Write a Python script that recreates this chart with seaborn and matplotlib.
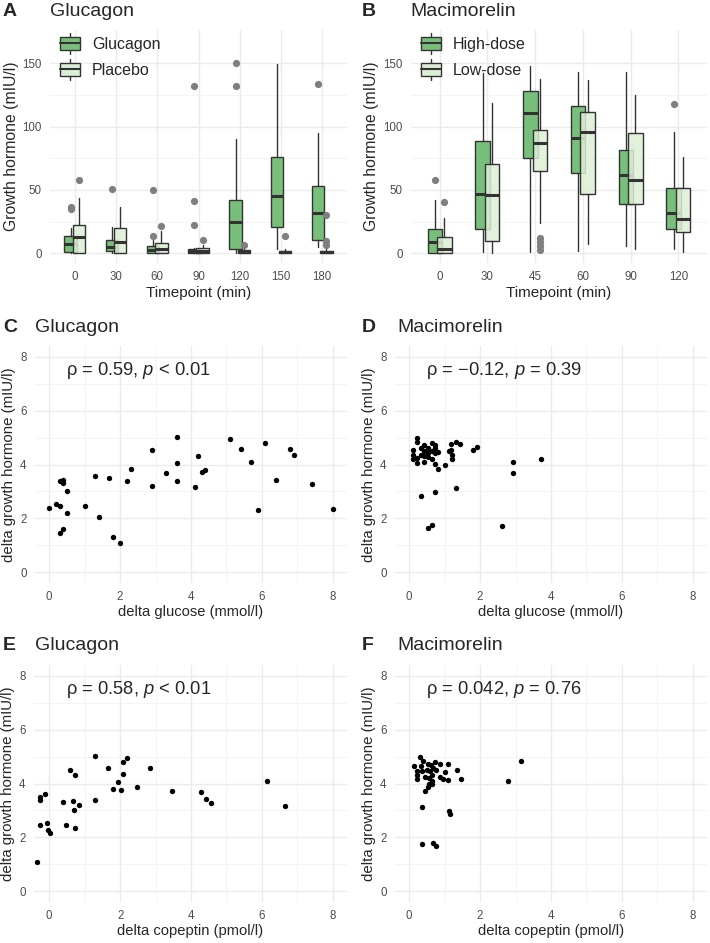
import numpy as np
import pandas as pd
import matplotlib
matplotlib.use("Agg")
import matplotlib.pyplot as plt
import seaborn as sns
from matplotlib.colors import to_rgba
from matplotlib.legend_handler import HandlerBase
from matplotlib.lines import Line2D
from matplotlib.patches import Patch, Rectangle
from matplotlib.ticker import FixedLocator


# ---- data: box summaries (panel A, glucagon test) ----
times_a = ["0", "30", "60", "90", "120", "150", "180"]
gluc_q1 = [0.8, 1.6, 0.5, 0.3, 3.7, 21, 10.8]
gluc_med = [7.5, 4.8, 2.8, 1.8, 24.5, 45, 32]
gluc_q3 = [14, 10.8, 5.8, 3.7, 41.8, 76.3, 53]
gluc_lo = [0.2, 0.3, 0.2, 0.1, 0.5, 3.4, 5.3]
gluc_hi = [20, 21, 11, 4.7, 90.5, 149.5, 95]
gluc_out = [[35, 36.5], [50.8], [13.8, 50.2], [22.5, 41.5, 131.7], [131.6, 150], [], [133.7]]

plac_q1 = [0.5, 0.5, 0.5, 0.3, 0, 0, 0]
plac_med = [12.6, 8.7, 3.4, 2, 1, 0.8, 0.8]
plac_q3 = [22.6, 19.7, 7.9, 4.2, 2.6, 1.8, 2.1]
plac_lo = [0, 0, 0, 0, 0, 0, 0]
plac_hi = [44, 36.8, 18, 7, 3.7, 3.2, 3.2]
plac_out = [[57.9], [], [22], [10.5], [6.5], [13.5], [7, 10, 30]]

# ---- data: box summaries (panel B, macimorelin test) ----
times_b = ["0", "30", "45", "60", "90", "120"]
high_q1 = [0, 19.5, 75, 63.7, 38.7, 19.5]
high_med = [8.9, 46.6, 111, 90.8, 61.6, 31.8]
high_q3 = [19.5, 88.7, 128, 115.8, 81.8, 51.8]
high_lo = [0, 0.8, 1.3, 1.8, 5.8, 3.2]
high_hi = [41.8, 142, 147.4, 142.6, 142.6, 95.8]
high_out = [[58.2], [], [], [], [], [117.9]]

low_q1 = [0, 9.5, 65.3, 47.1, 39.2, 17.1]
low_med = [3.4, 45.8, 86.8, 96, 57.9, 27.1]
low_q3 = [12.9, 70.3, 97.4, 111.3, 94.7, 51.8]
low_lo = [0, 0, 24, 7.4, 3.7, 1.3]
low_hi = [27.6, 118.4, 137.4, 136.8, 124.5, 76]
low_out = [[40.3], [], [2.5, 5.5, 9, 12.5], [], [], []]

# ---- data: scatter panels ----
gluc_glucose = [0.0, 0.2, 0.3, 0.3, 0.4, 0.4, 0.3, 0.4, 0.5, 0.5, 1.0, 1.3, 1.4,
                1.7, 1.8, 2.0, 2.2, 2.3, 2.9, 2.9, 3.3, 3.6, 3.6, 3.6, 4.1, 4.2,
                4.3, 4.4, 5.1, 5.4, 5.7, 5.9, 6.1, 6.4, 6.8, 6.9, 7.4, 8.0]
gluc_gh_c = [2.40, 2.54, 2.46, 3.38, 3.41, 3.30, 1.47, 1.60, 3.02, 2.19, 2.46, 3.59,
             2.06, 3.49, 1.32, 1.07, 3.37, 3.84, 4.52, 3.20, 3.69, 5.01, 4.06, 3.37,
             3.16, 4.33, 3.73, 3.78, 4.95, 4.57, 4.09, 2.30, 4.81, 3.44, 4.56, 4.36,
             3.27, 2.35]

maci_glucose = [2.92, 2.92, 3.71, 2.62, 0.52, 0.63, 0.33, 0.72, 1.32, 1.80, 1.92,
                1.02, 0.82,
                0.23, 0.23, 0.12, 0.12, 0.12, 0.23, 0.23, 0.42, 0.42, 0.42, 0.42,
                0.52, 0.52, 0.52, 0.63, 0.63, 0.72, 0.72, 0.72, 0.72, 0.82, 0.32,
                0.32, 0.63, 1.19, 1.19, 1.22, 1.22, 1.32, 1.43, 1.12]
maci_gh_d = [4.09, 3.69, 4.19, 1.73, 1.66, 1.76, 2.84, 2.97, 3.12, 4.54, 4.64,
             3.98, 3.84,
             4.98, 4.83, 4.53, 4.37, 4.21, 4.06, 4.24, 4.72, 4.50, 4.31, 4.11,
             4.62, 4.41, 4.28, 4.50, 4.21, 4.72, 4.60, 4.41, 4.01, 4.47, 4.37,
             4.62, 4.78, 4.52, 4.77, 4.37, 4.21, 4.85, 4.75, 4.50]

gluc_copeptin = [-0.35, -0.26, -0.26, -0.13, -0.26, -0.06, -0.03, 0.03, 0.40, 0.48,
                 0.58, 0.73, 0.67, 0.71, 0.73, 0.84, 1.29, 1.29, 1.66, 1.79, 1.93,
                 2.02, 2.09, 2.09, 2.19, 2.48, 2.83, 3.47, 4.28, 4.43, 4.56, 6.14, 6.65]
gluc_gh_e = [1.08, 3.50, 3.37, 3.60, 2.45, 2.55, 2.29, 2.18, 3.30, 2.45, 4.51, 4.33,
             3.36, 3.03, 2.35, 3.19, 5.01, 3.40, 4.56, 3.79, 4.05, 3.75, 4.35, 4.81,
             4.94, 3.86, 4.56, 3.73, 3.70, 3.44, 3.28, 4.09, 3.18]

maci_copeptin = [3.15, 2.78, 0.35, 1.11, 1.16, 0.35, 0.67, 0.75, 1.45, 1.35, 0.14,
                 0.22, 0.21, 0.46,
                 0.31, 0.39, 0.52, 0.61, 0.72, 0.86, 1.10, 0.23, 0.35, 0.49, 0.58,
                 0.68, 0.77, 1.01, 0.44, 0.55, 0.63, 0.55, 0.52, 0.63, 0.86, 0.96,
                 1.10, 0.33, 0.65]
maci_gh_f = [4.85, 4.09, 3.13, 2.98, 2.87, 1.76, 1.80, 1.68, 4.15, 4.49, 4.66,
             4.17, 4.33, 3.71,
             4.98, 4.82, 4.73, 4.67, 4.78, 4.73, 4.73, 4.45, 4.45, 4.51, 4.45,
             4.57, 4.49, 4.41, 4.25, 4.20, 4.10, 3.98, 3.86, 3.98, 4.23, 4.17,
             4.13, 4.64, 4.33]

corr_labels = ["\u03c1 = 0.59, $\\it{p}$ < 0.01",
               "\u03c1 = \u22120.12, $\\it{p}$ = 0.39",
               "\u03c1 = 0.58, $\\it{p}$ < 0.01",
               "\u03c1 = 0.042, $\\it{p}$ = 0.76"]


DARK = "#79bf7c"
LIGHT = "#dcefd5"
EDGE = "#333333"
GRID = "#ebebeb"

sns.set_theme(style="whitegrid")
plt.rcParams["font.family"] = ["Liberation Sans", "DejaVu Sans"]
plt.rcParams["mathtext.fontset"] = "custom"
plt.rcParams["mathtext.rm"] = "Liberation Sans"
plt.rcParams["mathtext.it"] = "Liberation Sans:italic"

W, H = 710, 943
fig = plt.figure(figsize=(W / 100, H / 100), dpi=100)
fig.patch.set_facecolor("white")


def add_ax(l, t, r, b):
    return fig.add_axes([l / W, 1 - b / H, (r - l) / W, (b - t) / H])


def style_ax(ax, minor_y, minor_x=None):
    for s in ax.spines.values():
        s.set_visible(False)
    ax.set_facecolor("white")
    ax.yaxis.set_minor_locator(FixedLocator(minor_y))
    if minor_x is not None:
        ax.xaxis.set_minor_locator(FixedLocator(minor_x))
    ax.tick_params(which="both", length=0, labelsize=8.3, labelcolor="#4d4d4d", pad=6)
    ax.grid(which="major", color=GRID, lw=1.0)
    ax.grid(which="minor", color="#f2f2f2", lw=0.6)
    ax.set_axisbelow(True)


class BoxKey(HandlerBase):
    def create_artists(self, legend, orig_handle, xdescent, ydescent,
                       width, height, fontsize, trans):
        x0, y0 = -xdescent, -ydescent
        wh = Line2D([x0 + width / 2] * 2, [y0 - height * 0.3, y0 + height * 1.3],
                    color=EDGE, lw=1, transform=trans)
        rect = Rectangle((x0, y0), width, height, facecolor=orig_handle.get_facecolor(),
                         edgecolor=EDGE, lw=1, transform=trans)
        med = Line2D([x0, x0 + width], [y0 + height / 2] * 2, color=EDGE, lw=1.5,
                     transform=trans)
        return [wh, rect, med]


def box_stats(q1, med, q3, lo, hi, out):
    return [dict(q1=a, med=m, q3=c, whislo=l, whishi=h, fliers=f)
            for a, m, c, l, h, f in zip(q1, med, q3, lo, hi, out)]


def box_panel(ax, cats, groups, names):
    n = len(cats)
    for (stats, color, alpha, off, z) in groups:
        ax.bxp(stats, positions=np.arange(n) + off, widths=0.3, patch_artist=True,
               showcaps=False, manage_ticks=False, zorder=z,
               boxprops=dict(facecolor=to_rgba(color, alpha), edgecolor=EDGE, linewidth=1),
               medianprops=dict(color=EDGE, linewidth=2.2),
               whiskerprops=dict(color=EDGE, linewidth=1),
               flierprops=dict(marker="o", markerfacecolor="#7f7f7f",
                               markeredgecolor="none", markersize=5.2))
    ax.set_xticks(np.arange(n))
    ax.set_xticklabels(cats)
    ax.set_xlim(-0.6, n - 0.4)
    ax.set_ylim(-7.5, 176)
    ax.set_yticks([0, 50, 100, 150])
    style_ax(ax, [25, 75, 125])
    ax.grid(which="minor", axis="x", visible=False)
    ax.set_xlabel("Timepoint (min)", fontsize=11, labelpad=2)
    ax.set_ylabel("Growth hormone (mIU/l)", fontsize=11.3)
    handles = [Patch(facecolor=DARK, label=names[0]), Patch(facecolor=LIGHT, label=names[1])]
    ax.legend(handles=handles, handler_map={Patch: BoxKey()}, loc="upper left",
              bbox_to_anchor=(0.034, 0.97), frameon=False, fontsize=11.5,
              handlelength=1.25, handleheight=0.85, labelspacing=0.68, handletextpad=0.75,
              borderaxespad=0, borderpad=0)


def scatter_panel(ax, x, y, label, xlabel, xlim):
    sns.scatterplot(x=x, y=y, ax=ax, color="black", s=15, linewidth=0, zorder=3)
    ax.set_xlim(*xlim)
    ax.set_ylim(-0.4, 8.4)
    ax.set_xticks([0, 2, 4, 6, 8])
    ax.set_yticks([0, 2, 4, 6, 8])
    style_ax(ax, [1, 3, 5, 7], [1, 3, 5, 7])
    ax.text(0.48, 7.5, label, fontsize=13.2, ha="left", va="center")
    ax.set_xlabel(xlabel, fontsize=10.6, labelpad=1)
    ax.set_ylabel("delta growth hormone (mIU/l)", fontsize=10.8)


# ---- panel A ----
axA = add_ax(50, 30, 347, 263)
box_panel(axA, times_a,
          [(box_stats(gluc_q1, gluc_med, gluc_q3, gluc_lo, gluc_hi, gluc_out), DARK, 1.0, -0.1, 2),
           (box_stats(plac_q1, plac_med, plac_q3, plac_lo, plac_hi, plac_out), LIGHT, 0.85, 0.1, 3)],
          ["Glucagon", "Placebo"])
axA.yaxis.set_label_coords(-0.103, 0.5)

# ---- panel B ----
axB = add_ax(411, 30, 707, 263)
box_panel(axB, times_b,
          [(box_stats(high_q1, high_med, high_q3, high_lo, high_hi, high_out), DARK, 1.0, -0.1, 2),
           (box_stats(low_q1, low_med, low_q3, low_lo, low_hi, low_out), LIGHT, 0.85, 0.1, 3)],
          ["High-dose", "Low-dose"])
axB.yaxis.set_label_coords(-0.108, 0.5)

# ---- panels C-F ----
axC = add_ax(35, 346, 347, 583)
scatter_panel(axC, gluc_glucose, gluc_gh_c, corr_labels[0], "delta glucose (mmol/l)", (-0.4, 8.4))
axD = add_ax(395, 346, 707, 583)
scatter_panel(axD, maci_glucose, maci_gh_d, corr_labels[1], "delta glucose (mmol/l)", (-0.4, 8.4))
axE = add_ax(34, 665, 347, 902)
scatter_panel(axE, gluc_copeptin, gluc_gh_e, corr_labels[2], "delta copeptin (pmol/l)", (-0.43, 8.4))
axF = add_ax(395, 665, 707, 902)
scatter_panel(axF, maci_copeptin, maci_gh_f, corr_labels[3], "delta copeptin (pmol/l)", (-0.4, 8.4))
for ax in (axC, axD, axE, axF):
    ax.yaxis.set_label_coords(-0.062, 0.5)

# ---- panel letters and titles ----
for letter, lx, tx, ty, title in [("A", 3, 50, 12, "Glucagon"), ("B", 362, 410, 12, "Macimorelin"),
                                  ("C", 3, 35, 328, "Glucagon"), ("D", 362, 397, 328, "Macimorelin"),
                                  ("E", 3, 35, 645, "Glucagon"), ("F", 362, 397, 645, "Macimorelin")]:
    fig.text(lx / W, 1 - ty / H, letter, fontsize=14, fontweight="bold", va="center", ha="left")
    fig.text(tx / W, 1 - ty / H, title, fontsize=14, va="center", ha="left")

fig.savefig("out.png", dpi=100, facecolor="white")
